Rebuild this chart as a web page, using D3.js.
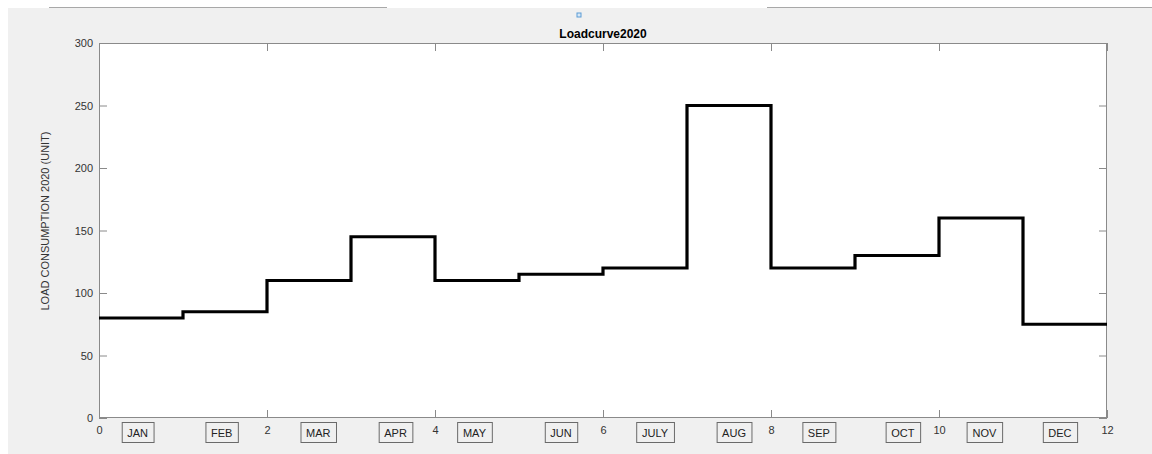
<!DOCTYPE html>
<html>
<head>
<meta charset="utf-8">
<script src="https://cdn.jsdelivr.net/npm/d3@7"></script>
<style>
  html, body { margin: 0; padding: 0; background: #ffffff; }
  svg { display: block; font-family: "Liberation Sans", Arial, Helvetica, sans-serif; }
</style>
</head>
<body>
<svg id="chart" width="1152" height="454"></svg>
<script>
// ---- data ----
const months = ["JAN","FEB","MAR","APR","MAY","JUN","JULY","AUG","SEP","OCT","NOV","DEC"];
const loadValues = [80, 85, 110, 145, 110, 115, 120, 250, 120, 130, 160, 75];
const monthLabelX = [0.46, 1.46, 2.61, 3.53, 4.47, 5.50, 6.62, 7.56, 8.57, 9.57, 10.54, 11.44];
const xTicks = [0, 2, 4, 6, 8, 10, 12];
const yTicks = [0, 50, 100, 150, 200, 250, 300];
const chartTitle = "Loadcurve2020";
const yLabel = "LOAD CONSUMPTION 2020 (UNIT)";

// ---- layout ----
const W = 1152, H = 454;
const plot = { left: 99, right: 1107, top: 43, bottom: 418 };
const svg = d3.select("#chart");

// figure background
svg.append("rect").attr("x", 8).attr("y", 8).attr("width", W - 8).attr("height", H - 8).attr("fill", "#f0f0f0");
svg.append("line").attr("x1", 49).attr("x2", 387).attr("y1", 7.5).attr("y2", 7.5).attr("stroke", "#a8a8a8").attr("stroke-width", 1);
svg.append("line").attr("x1", 767).attr("x2", 1152).attr("y1", 7.5).attr("y2", 7.5).attr("stroke", "#a8a8a8").attr("stroke-width", 1);

// small blue marker
svg.append("rect").attr("x", 577).attr("y", 13).attr("width", 4).attr("height", 4)
  .attr("fill", "#d8e8f6").attr("stroke", "#5a9bd5").attr("stroke-width", 1);

const x = d3.scaleLinear().domain([0, 12]).range([plot.left, plot.right]);
const y = d3.scaleLinear().domain([0, 300]).range([plot.bottom, plot.top]);

// plot area
svg.append("rect").attr("x", plot.left).attr("y", plot.top)
  .attr("width", plot.right - plot.left).attr("height", plot.bottom - plot.top)
  .attr("fill", "#ffffff");

const axisColor = "#8a8a8a";
const tickLen = 8;

function styleAxis(g) {
  g.select(".domain").remove();
  g.selectAll(".tick line").attr("stroke", axisColor).attr("stroke-width", 1);
  g.selectAll(".tick text").attr("fill", "#333").attr("font-size", 11);
}

// bottom axis (ticks inward)
const gxB = svg.append("g").attr("transform", `translate(0,${plot.bottom})`)
  .call(d3.axisBottom(x).tickValues(xTicks).tickSize(-tickLen).tickPadding(8).tickFormat(d3.format("d")));
styleAxis(gxB);
// top axis ticks
const gxT = svg.append("g").attr("transform", `translate(0,${plot.top})`)
  .call(d3.axisTop(x).tickValues(xTicks).tickSize(-tickLen).tickFormat(""));
styleAxis(gxT);
// left axis
const gyL = svg.append("g").attr("transform", `translate(${plot.left},0)`)
  .call(d3.axisLeft(y).tickValues(yTicks).tickSize(-tickLen).tickPadding(6).tickFormat(d3.format("d")));
styleAxis(gyL);
// right axis ticks
const gyR = svg.append("g").attr("transform", `translate(${plot.right},0)`)
  .call(d3.axisRight(y).tickValues(yTicks).tickSize(-tickLen).tickFormat(""));
styleAxis(gyR);

// box frame
svg.append("rect").attr("x", plot.left + 0.5).attr("y", plot.top + 0.5)
  .attr("width", plot.right - plot.left - 1).attr("height", plot.bottom - plot.top - 1)
  .attr("fill", "none").attr("stroke", axisColor).attr("stroke-width", 1);

// step line
const stepData = loadValues.map((v, i) => ({ x: i, v }));
stepData.push({ x: loadValues.length, v: loadValues[loadValues.length - 1] });
const line = d3.line().x(d => x(d.x)).y(d => y(d.v)).curve(d3.curveStepAfter);
svg.append("path").datum(stepData).attr("d", line)
  .attr("fill", "none").attr("stroke", "#000").attr("stroke-width", 3.2)
  .attr("stroke-linejoin", "miter").attr("stroke-linecap", "butt");

// title
svg.append("text").attr("x", (plot.left + plot.right) / 2).attr("y", 38)
  .attr("text-anchor", "middle").attr("font-size", 12).attr("font-weight", "bold")
  .attr("fill", "#000").text(chartTitle);

// y label
svg.append("text").attr("transform", `translate(49,221) rotate(-90)`)
  .attr("text-anchor", "middle").attr("font-size", 11).attr("fill", "#333").text(yLabel);

// month annotation boxes
const lg = svg.append("g");
months.forEach((m, i) => {
  const g = lg.append("g");
  const t = g.append("text").attr("x", x(monthLabelX[i])).attr("y", 437)
    .attr("text-anchor", "middle").attr("font-size", 11).attr("fill", "#222").text(m);
  const bb = t.node().getBBox();
  const bw = bb.width + 11;
  g.insert("rect", "text").attr("x", x(monthLabelX[i]) - bw / 2 + 0.5).attr("y", 422.5)
    .attr("width", bw).attr("height", 20)
    .attr("fill", "none").attr("stroke", "#6a6a6a").attr("stroke-width", 1);
});
</script>
</body>
</html>
